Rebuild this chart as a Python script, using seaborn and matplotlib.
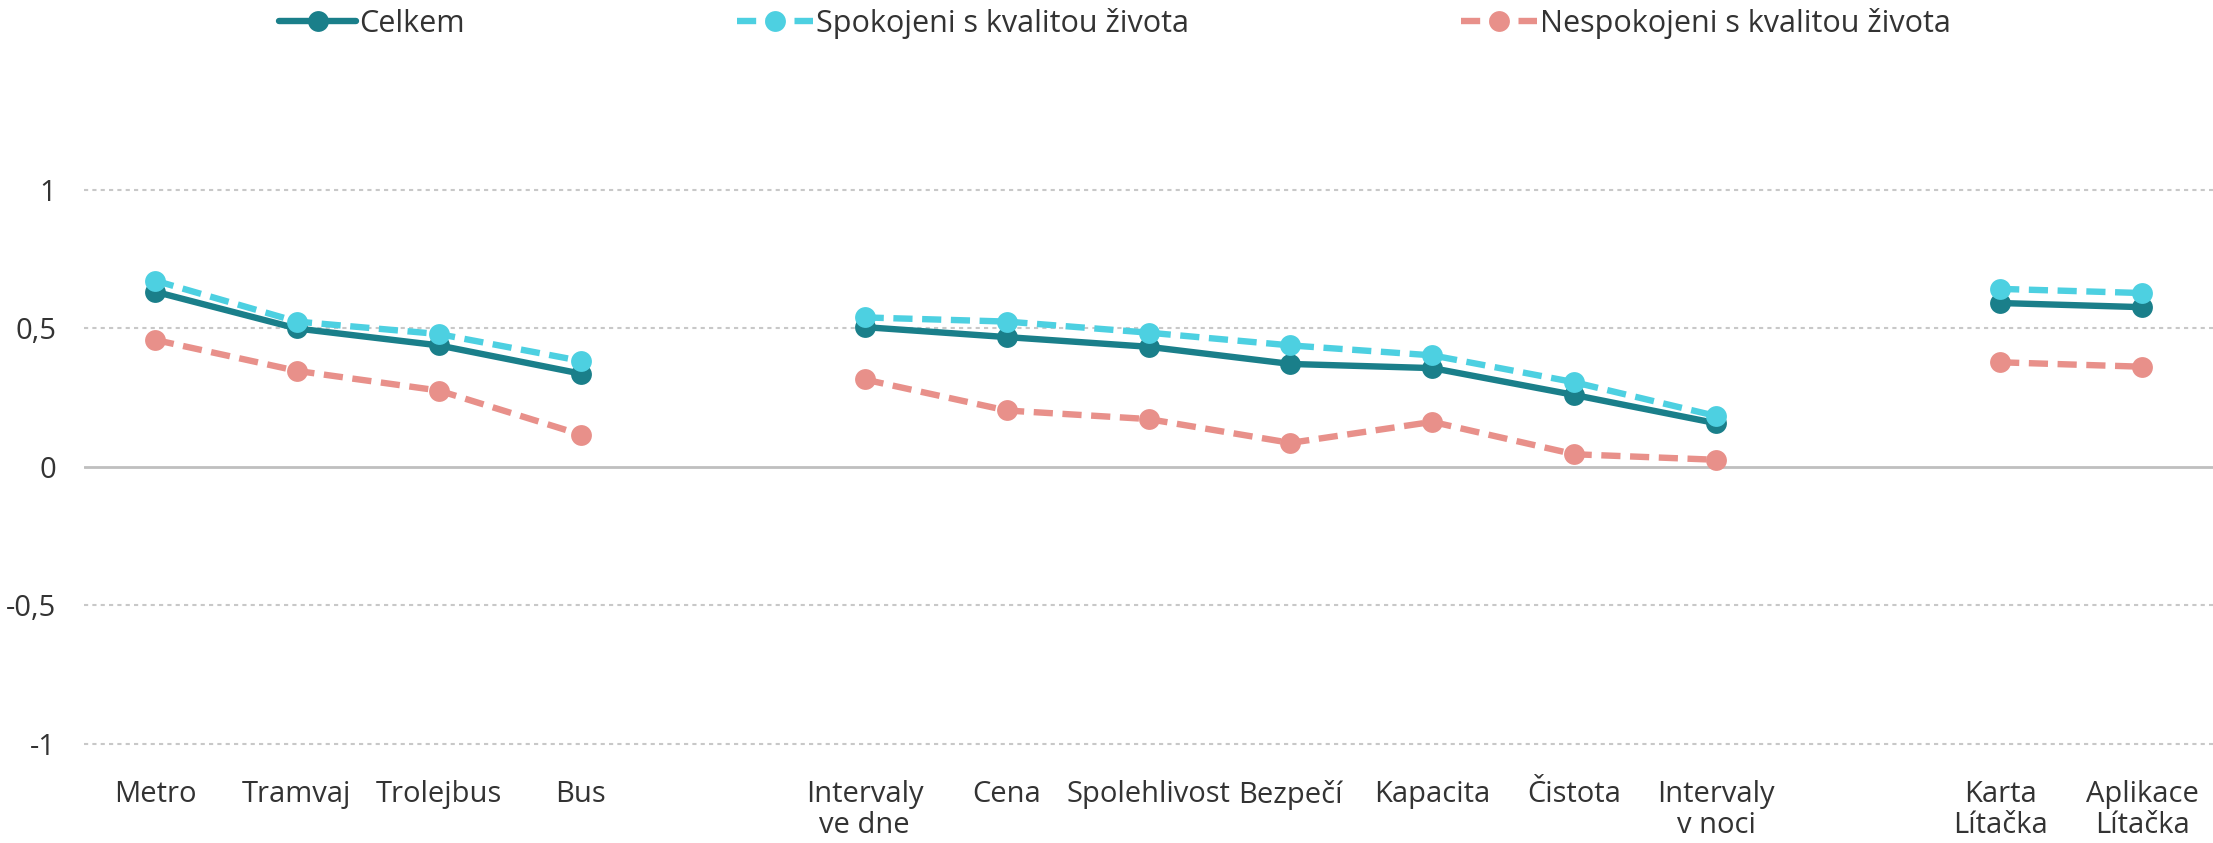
import numpy as np
import pandas as pd
import matplotlib
matplotlib.use('Agg')
import matplotlib.pyplot as plt
from matplotlib.ticker import FuncFormatter
import seaborn as sns

# Categories ('' = empty slot separating the groups)
categories = ['Metro', 'Tramvaj', 'Trolejbus', 'Bus', '',
              'Intervaly\nve dne', 'Cena', 'Spolehlivost', 'Bezpečí', 'Kapacita',
              'Čistota', 'Intervaly\nv noci', '',
              'Karta\nLítačka', 'Aplikace\nLítačka']
groups = [0, 0, 0, 0, None, 1, 1, 1, 1, 1, 1, 1, None, 2, 2]

series = ['Celkem', 'Spokojeni s kvalitou života', 'Nespokojeni s kvalitou života']
celkem = [0.633, 0.50, 0.439, 0.337, np.nan,
          0.505, 0.469, 0.434, 0.372, 0.357, 0.26, 0.158, np.nan,
          0.592, 0.577]
spokojeni = [0.673, 0.525, 0.48, 0.383, np.nan,
             0.54, 0.525, 0.485, 0.439, 0.403, 0.306, 0.184, np.nan,
             0.643, 0.628]
nespokojeni = [0.459, 0.347, 0.276, 0.117, np.nan,
               0.316, 0.204, 0.173, 0.087, 0.163, 0.046, 0.026, np.nan,
               0.378, 0.362]

colors = {series[0]: '#1A7F8A', series[1]: '#4DD0E1', series[2]: '#E8908A'}
dashes = {series[0]: '', series[1]: (3.0, 1.5), series[2]: (3.0, 1.5)}

rows = []
for name, vals in zip(series, [celkem, spokojeni, nespokojeni]):
    for i, (v, g) in enumerate(zip(vals, groups)):
        if g is None:
            continue
        rows.append({'pos': i, 'value': v, 'series': name, 'group': g})
df = pd.DataFrame(rows)

sns.set_style('white')
plt.rcParams['font.family'] = ['Open Sans', 'DejaVu Sans']

fig = plt.figure(figsize=(22.13, 8.43), dpi=100)
ax = fig.add_axes([84 / 2213, 0.1109, 1 - 84 / 2213, 0.828])

sns.lineplot(data=df, x='pos', y='value', hue='series', style='series',
             units='group', estimator=None, hue_order=series, style_order=series,
             palette=colors, dashes=dashes, markers={s: 'o' for s in series},
             markersize=15, markeredgewidth=0, linewidth=4.6,
             ax=ax, zorder=3)

handles, labels = ax.get_legend_handles_labels()
ax.get_legend().remove()

ax.set_xlim(-0.5, len(categories) - 0.5)
ax.set_ylim(-1.02, 1.5)
ax.set_xticks(range(len(categories)))
ax.set_xticklabels(categories, fontsize=21, color='#333333', linespacing=1.1)
ax.set_yticks([-1, -0.5, 0, 0.5, 1])
ax.yaxis.set_major_formatter(FuncFormatter(lambda v, p: f'{v:g}'.replace('.', ',')))
ax.tick_params(axis='y', labelsize=21, colors='#333333', length=0, pad=20)
ax.tick_params(axis='x', length=0, pad=22)
ax.set_xlabel('')
ax.set_ylabel('')

for y in [-1, -0.5, 0.5, 1]:
    ax.axhline(y, color='#C8C8C8', linewidth=1.5, linestyle=(0, (2, 2)), zorder=1)
ax.axhline(0, color='#BFBFBF', linewidth=2, zorder=1)

for s in ax.spines.values():
    s.set_visible(False)

fig.legend(handles, labels, loc='center', bbox_to_anchor=(0.504, 0.972),
           ncol=3, frameon=False, fontsize=22, handlelength=2.5,
           handletextpad=0.1, columnspacing=8.9, labelcolor='#333333')

fig.savefig('out.png', dpi=100)
